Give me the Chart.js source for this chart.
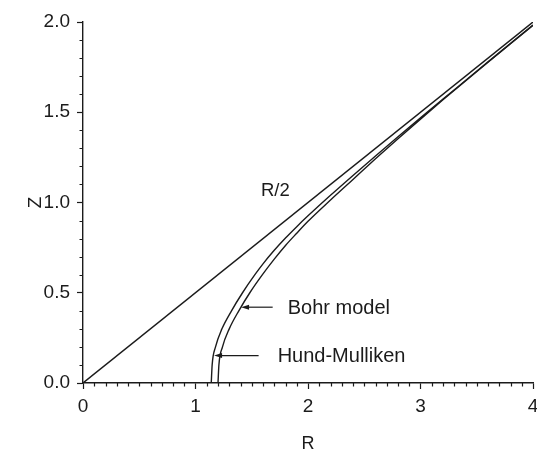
<!DOCTYPE html>
<html lang="en">
<head>
    <meta charset="UTF-8">
    <title>Z vs R</title>
    <script src="https://cdn.jsdelivr.net/npm/chart.js"></script>
    <style>
        html, body {
            margin: 0;
            padding: 0;
            background-color: white;
        }
        .container {
            width: 537px;
            height: 451px;
        }
    </style>
</head>
<body>
    <div class="container">
        <canvas id="zChart" width="537" height="451"></canvas>
    </div>

    <script>
        // straight line Z = R/2
        const halfR = [0, 4];
        const halfZ = [0, 2];

        // Hund-Mulliken curve
        const hmR = [1.14, 1.148, 1.178, 1.235, 1.32, 1.418, 1.528, 1.6, 1.7, 1.8, 1.9, 2.0, 2.2, 2.4, 2.6, 2.8, 3.0, 3.2, 3.4, 3.6, 3.8, 4.0];
        const hmZ = [0, 0.1, 0.2, 0.3, 0.4, 0.5, 0.6, 0.66, 0.735, 0.803, 0.866, 0.926, 1.04, 1.15, 1.258, 1.364, 1.469, 1.573, 1.676, 1.779, 1.881, 1.983];

        // Bohr model curve
        const bohrR = [1.20, 1.208, 1.24, 1.30, 1.385, 1.483, 1.595, 1.7, 1.8, 1.9, 2.0, 2.2, 2.4, 2.6, 2.8, 3.0, 3.2, 3.4, 3.6, 3.8, 4.0];
        const bohrZ = [0, 0.1, 0.2, 0.3, 0.4, 0.5, 0.6, 0.686, 0.762, 0.83, 0.896, 1.014, 1.128, 1.242, 1.353, 1.462, 1.569, 1.673, 1.777, 1.88, 1.982];

        const xTicks = [0, 1, 2, 3, 4];
        const yTicks = [0, 0.5, 1.0, 1.5, 2.0];

        const ink = '#1b1b1b';
        const font = 'Arial, "Liberation Sans", sans-serif';

        const toPoints = (xs, ys) => xs.map((x, i) => ({ x: x, y: ys[i] }));

        // minor ticks every 0.1 on both axes
        const minorTicks = {
            id: 'minorTicks',
            afterDraw(chart) {
                const { ctx, scales: { x, y } } = chart;
                ctx.save();
                ctx.strokeStyle = ink;
                ctx.lineWidth = 1.2;
                ctx.beginPath();
                for (let i = 0; i <= 40; i++) {
                    if (i % 10 === 0) continue;
                    const px = Math.round(x.getPixelForValue(i / 10)) + 0.5;
                    ctx.moveTo(px, y.bottom);
                    ctx.lineTo(px, y.bottom + 3.5);
                }
                for (let i = 0; i <= 20; i++) {
                    if (i % 5 === 0) continue;
                    const py = Math.round(y.getPixelForValue(i / 10)) + 0.5;
                    ctx.moveTo(x.left, py);
                    ctx.lineTo(x.left - 3.5, py);
                }
                ctx.stroke();
                ctx.restore();
            }
        };

        // curve labels with arrows
        const curveLabels = {
            id: 'curveLabels',
            afterDatasetsDraw(chart) {
                const { ctx, scales: { x, y } } = chart;
                ctx.save();
                ctx.fillStyle = ink;
                ctx.strokeStyle = ink;
                ctx.lineWidth = 1.2;
                ctx.textBaseline = 'middle';

                ctx.font = '18.5px ' + font;
                ctx.textAlign = 'center';
                ctx.fillText('R/2', x.getPixelForValue(1.71), y.getPixelForValue(1.064));

                const arrow = (r1, r0, z) => {
                    const py = y.getPixelForValue(z);
                    const tail = x.getPixelForValue(r1);
                    const tip = x.getPixelForValue(r0);
                    ctx.beginPath();
                    ctx.moveTo(tail, py);
                    ctx.lineTo(tip + 6, py);
                    ctx.stroke();
                    ctx.beginPath();
                    ctx.moveTo(tip, py);
                    ctx.lineTo(tip + 8, py - 2.5);
                    ctx.lineTo(tip + 8, py + 2.5);
                    ctx.closePath();
                    ctx.fill();
                };

                ctx.font = '20px ' + font;
                ctx.textAlign = 'left';
                arrow(1.686, 1.405, 0.42);
                ctx.fillText('Bohr model', x.getPixelForValue(1.82), y.getPixelForValue(0.415));

                arrow(1.561, 1.165, 0.152);
                ctx.fillText('Hund-Mulliken', x.getPixelForValue(1.73), y.getPixelForValue(0.148));
                ctx.restore();
            }
        };

        const lineStyle = {
            showLine: true,
            borderColor: ink,
            borderWidth: 1.4,
            pointRadius: 0,
            fill: false,
            cubicInterpolationMode: 'monotone'
        };

        const ctx = document.getElementById('zChart').getContext('2d');
        new Chart(ctx, {
            type: 'scatter',
            data: {
                datasets: [
                    { ...lineStyle, label: 'R/2', data: toPoints(halfR, halfZ) },
                    { ...lineStyle, label: 'Hund-Mulliken', data: toPoints(hmR, hmZ) },
                    { ...lineStyle, label: 'Bohr model', data: toPoints(bohrR, bohrZ) }
                ]
            },
            options: {
                responsive: false,
                animation: false,
                layout: { padding: { top: 22, right: 4, left: 0, bottom: 0 } },
                plugins: {
                    legend: { display: false },
                    tooltip: { enabled: false }
                },
                scales: {
                    x: {
                        type: 'linear',
                        min: 0,
                        max: 4,
                        afterFit: s => { s.height = 68; s.paddingLeft = 0; s.paddingRight = 0; },
                        afterBuildTicks: s => { s.ticks = xTicks.map(v => ({ value: v })); },
                        ticks: {
                            color: ink,
                            padding: 6,
                            font: { family: font, size: 19 },
                            callback: v => String(v)
                        },
                        grid: { drawOnChartArea: false, tickLength: 6, tickColor: ink, tickWidth: 1.2 },
                        border: { color: ink, width: 1.4 },
                        title: {
                            display: true,
                            text: 'R',
                            color: ink,
                            font: { family: font, size: 18, lineHeight: 1 },
                            padding: { top: 0, bottom: -2 }
                        }
                    },
                    y: {
                        min: 0,
                        max: 2,
                        afterFit: s => { s.width = 83; s.paddingTop = 0; s.paddingBottom = 0; },
                        afterBuildTicks: s => { s.ticks = yTicks.map(v => ({ value: v })); },
                        ticks: {
                            color: ink,
                            padding: 7,
                            font: { family: font, size: 19 },
                            callback: v => v.toFixed(1)
                        },
                        grid: { drawOnChartArea: false, tickLength: 6, tickColor: ink, tickWidth: 1.2 },
                        border: { color: ink, width: 1.4 },
                        title: {
                            display: true,
                            text: 'Z',
                            color: ink,
                            font: { family: font, size: 19, lineHeight: 1 },
                            padding: { top: 26, bottom: 0 }
                        }
                    }
                }
            },
            plugins: [minorTicks, curveLabels]
        });
    </script>
</body>
</html>
